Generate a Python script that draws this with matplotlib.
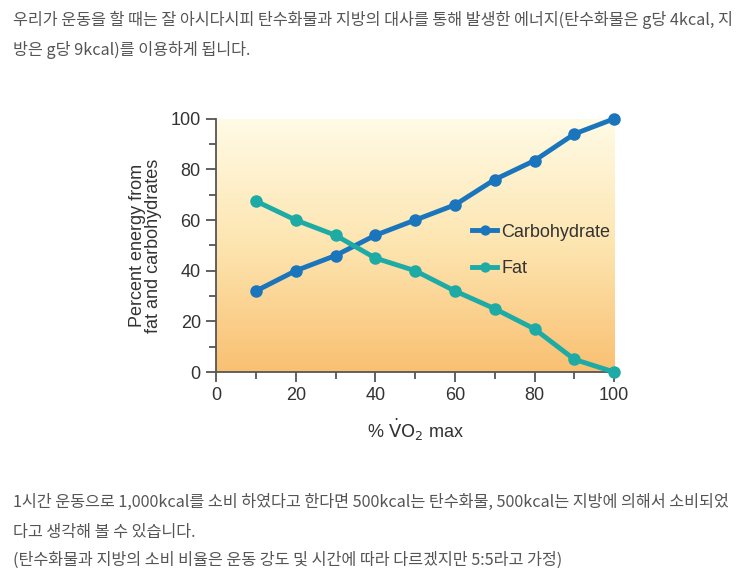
import numpy as np
import matplotlib
matplotlib.use("Agg")
import matplotlib.pyplot as plt
from matplotlib.colors import LinearSegmentedColormap

plt.rcParams['font.family'] = ['Noto Sans CJK KR', 'DejaVu Sans']

# data
vo2 = [10, 20, 30, 40, 50, 60, 70, 80, 90, 100]
carbohydrate = [32, 40, 46, 54, 60, 66, 76, 83.5, 94, 100]
fat = [67.5, 60, 54, 45, 40, 32, 25, 17, 5, 0]

top_lines = [
    "우리가 운동을 할 때는 잘 아시다시피 탄수화물과 지방의 대사를 통해 발생한 에너지(탄수화물은 g당 4kcal, 지",
    "방은 g당 9kcal)를 이용하게 됩니다.",
]
bottom_lines = [
    "1시간 운동으로 1,000kcal를 소비 하였다고 한다면 500kcal는 탄수화물, 500kcal는 지방에 의해서 소비되었",
    "다고 생각해 볼 수 있습니다.",
    "(탄수화물과 지방의 소비 비율은 운동 강도 및 시간에 따라 다르겠지만 5:5라고 가정)",
]

text_color = '#555555'
axis_color = '#555555'
carb_color = '#1b75bc'
fat_color = '#1eaaa5'

fig = plt.figure(figsize=(7.4, 5.85), dpi=100)
fig.patch.set_facecolor('white')

ax = fig.add_axes([0.292, 0.364, 0.538, 0.433])

# background gradient (pale yellow at top -> orange at bottom)
cmap = LinearSegmentedColormap.from_list('bg', ['#f9c072', '#fde5b0', '#fffbe6'])
grad = np.linspace(0, 1, 256).reshape(-1, 1)
ax.imshow(grad, extent=[0, 100, 0, 100], origin='lower', aspect='auto',
          cmap=cmap, zorder=0)

ax.plot(vo2, carbohydrate, color=carb_color, lw=3.5, marker='o', ms=8,
        label='Carbohydrate', zorder=3, clip_on=False)
ax.plot(vo2, fat, color=fat_color, lw=3.5, marker='o', ms=8,
        label='Fat', zorder=3, clip_on=False)

ax.set_xlim(0, 100)
ax.set_ylim(0, 100)
ax.set_xticks(range(0, 101, 20))
ax.set_xticks(range(10, 100, 20), minor=True)
ax.set_yticks(range(0, 101, 20))
ax.set_yticks(range(10, 100, 20), minor=True)

for side in ['top', 'right']:
    ax.spines[side].set_visible(False)
for side in ['left', 'bottom']:
    ax.spines[side].set_color(axis_color)
    ax.spines[side].set_linewidth(1.3)

ax.tick_params(which='major', length=7, width=1.3, color=axis_color,
               labelsize=13, labelcolor='#333333', pad=4)
ax.tick_params(which='minor', length=5, width=1.3, color=axis_color)
for lab in ax.get_xticklabels() + ax.get_yticklabels():
    lab.set_family(['Liberation Sans', 'DejaVu Sans'])

ax.set_xlabel(r'% $\dot{\mathrm{V}}\mathrm{O}_2$ max', fontsize=13,
              color='#333333', labelpad=9, family=['Liberation Sans'])
ax.set_ylabel('Percent energy from\nfat and carbohydrates', fontsize=13,
              color='#333333', labelpad=6, linespacing=0.95,
              family=['Liberation Sans'])

leg = ax.legend(loc='center left', bbox_to_anchor=(0.625, 0.48), frameon=False,
                fontsize=13, handlelength=1.4, handletextpad=0.2,
                labelspacing=1.1, markerscale=0.8, borderaxespad=0)
for t in leg.get_texts():
    t.set_color('#333333')
    t.set_family(['Liberation Sans'])

# surrounding paragraph text
for i, line in enumerate(top_lines):
    fig.text(0.018, 1 - (20 + 30 * i) / 585, line, fontsize=11.7,
             color=text_color, va='center', ha='left')
for i, yp in enumerate([502, 532, 560]):
    fig.text(0.018, 1 - yp / 585, bottom_lines[i], fontsize=11.7,
             color=text_color, va='center', ha='left')

fig.savefig('out.png', dpi=100, facecolor='white')
